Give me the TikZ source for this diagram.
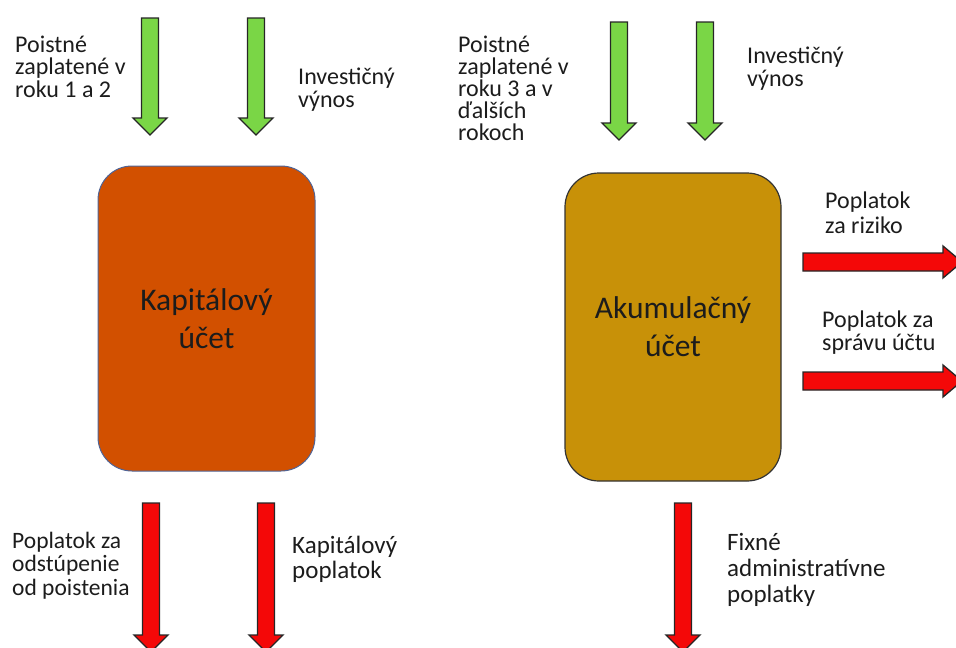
\documentclass[tikz,border=0pt]{standalone}
\usepackage{fontspec}
\setmainfont{Carlito}
\definecolor{arrgreen}{RGB}{122,214,70}
\definecolor{arrred}{RGB}{244,8,8}
\definecolor{boxorange}{RGB}{210,80,0}
\definecolor{boxgold}{RGB}{200,145,8}
\definecolor{txtcol}{RGB}{28,28,28}
\definecolor{lborder}{RGB}{80,100,150}
\newcommand\downblock[5]{%
  \draw[blockline,fill=#5] ({#1-8.5},#2) -- ({#1+8.5},#2) -- ({#1+8.5},#3) -- ({#1+17},#3) -- (#1,#4) -- ({#1-17},#3) -- ({#1-8.5},#3) -- cycle;}
\newcommand\rightblock[5]{%
  \draw[blockline,fill=#5] (#2,{#1-9}) -- (#3,{#1-9}) -- (#3,{#1-16}) -- (#4,#1) -- (#3,{#1+16}) -- (#3,{#1+9}) -- (#2,{#1+9}) -- cycle;}
\begin{document}
\begin{tikzpicture}[x=1pt,y=-1pt,
  blockline/.style={draw=black!85,line width=1.3pt,line join=miter},
  lbl/.style={anchor=base west,align=left,inner sep=0pt,text=txtcol,font=\fontsize{24}{22.5}\selectfont},
  account/.style={rounded corners=34pt,minimum width=217pt,align=center,inner sep=0pt,text=txtcol,font=\fontsize{31.5}{38}\selectfont}]
\useasboundingbox (0,0) rectangle (956,648);

% accounts
\node[account,fill=boxorange,draw=lborder,line width=1pt,minimum height=305pt] (kap) at (206.5,318.5) {Kapitálový\\účet};
\node[account,fill=boxgold,draw=black!80,line width=1.2pt,minimum height=308pt,minimum width=216pt] (aku) at (673,327) {Akumulačný\\účet};

% green inflows
\downblock{150}{18}{118}{135}{arrgreen}
\downblock{256}{18}{118}{135}{arrgreen}
\downblock{619}{22}{123}{140}{arrgreen}
\downblock{705}{22}{123}{140}{arrgreen}

% red outflows
\downblock{151}{503}{635}{652}{arrred}
\downblock{266}{503}{635}{652}{arrred}
\downblock{683}{503}{635}{652}{arrred}
\rightblock{262}{803}{943}{962}{arrred}
\rightblock{381}{803}{943}{962}{arrred}

% labels (anchor = baseline of last line)
\node[lbl,font=\fontsize{24}{22.5}\selectfont] (l1) at (15,97) {Poistné\\zaplatené v\\roku 1 a 2};
\node[lbl,font=\fontsize{24}{23}\selectfont] (l2) at (298,107) {Investičný\\výnos};
\node[lbl,font=\fontsize{24}{22}\selectfont] (l3) at (458,140) {Poistné\\zaplatené v\\roku 3 a v\\ďalších\\rokoch};
\node[lbl,font=\fontsize{24}{23}\selectfont] (l4) at (747,86) {Investičný\\výnos};
\node[lbl,font=\fontsize{24}{25}\selectfont] (l5) at (825,233) {Poplatok\\za riziko};
\node[lbl,font=\fontsize{24}{22.5}\selectfont] (l6) at (822,350) {Poplatok za\\správu účtu};
\node[lbl,font=\fontsize{23.5}{23.5}\selectfont] (l7) at (12,595) {Poplatok za\\odstúpenie\\od poistenia};
\node[lbl,font=\fontsize{25}{25}\selectfont] (l8) at (292,578) {Kapitálový\\poplatok};
\node[lbl,font=\fontsize{25}{26}\selectfont] (l9) at (727,602) {Fixné\\administratívne\\poplatky};
\end{tikzpicture}
\end{document}
